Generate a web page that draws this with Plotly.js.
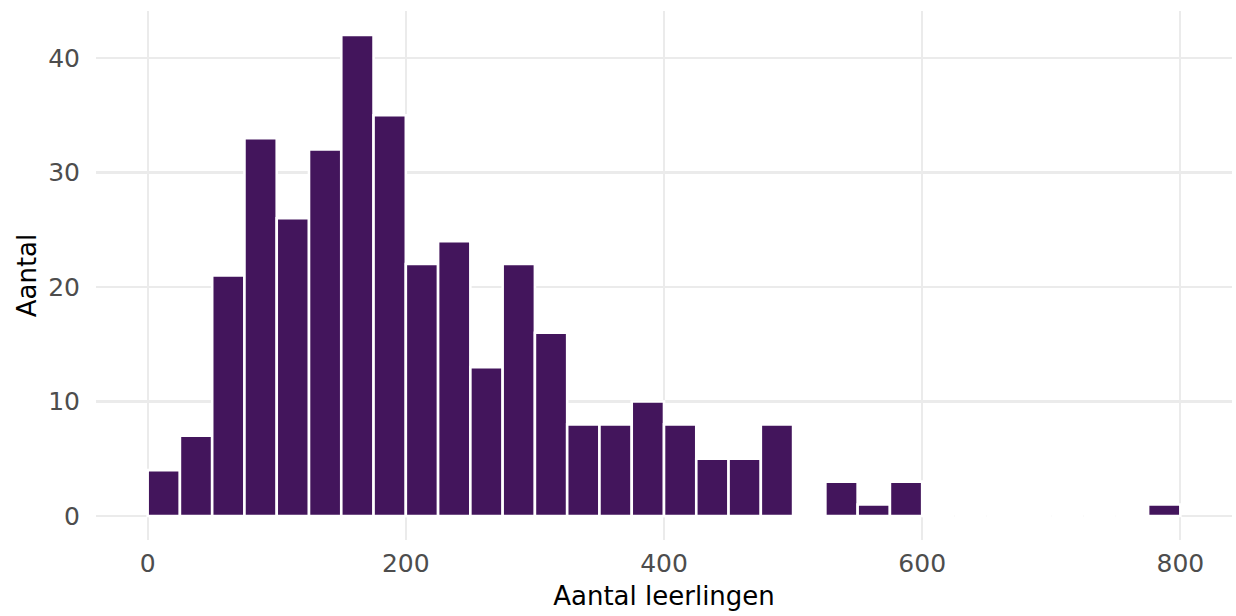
<!DOCTYPE html>
<html>
<head>
<meta charset="utf-8">
<script src="https://cdn.plot.ly/plotly-3.0.1.min.js"></script>
<style>html,body{margin:0;padding:0;background:#fff;}#chart{width:1236px;height:616px;}</style>
</head>
<body>
<div id="chart"></div>
<script>
// Histogram bins (width 25), start of each bin
const binWidth = 25;
const binStart = [0,25,50,75,100,125,150,175,200,225,250,275,300,325,350,375,400,425,450,475,500,525,550,575,600,625,650,675,700,725,750,775];
const counts   = [4,7,21,33,26,32,42,35,22,24,13,22,16,8,8,10,8,5,5,8,0,3,1,3,0,0,0,0,0,0,0,1];
const xTicks = [0,200,400,600,800];
const yTicks = [0,10,20,30,40];
const xTitle = "Aantal leerlingen";
const yTitle = "Aantal";

const trace = {
  type: 'bar',
  x: binStart,
  y: counts,
  width: binWidth,
  offset: 0,
  marker: {color: '#43155c', line: {color: '#ffffff', width: 2.6}},
  hoverinfo: 'x+y'
};

const font = "DejaVu Sans, sans-serif";
const layout = {
  width: 1236, height: 616,
  margin: {l: 96, r: 4, t: 11, b: 76},
  paper_bgcolor: '#fff', plot_bgcolor: '#fff',
  showlegend: false,
  bargap: 0,
  font: {family: font},
  xaxis: {
    range: [-40, 840], tickvals: xTicks, ticktext: xTicks.map(String),
    showgrid: true, gridcolor: '#ebebeb', gridwidth: 2.2, zeroline: false,
    showline: false, ticks: 'outside', ticklen: 1, tickcolor: 'rgba(0,0,0,0)',
    tickfont: {family: font, size: 25, color: '#4d4d4d'},
    title: {text: xTitle, font: {family: font, size: 26, color: '#000'}, standoff: 9}
  },
  yaxis: {
    range: [-2.1, 44.1], tickvals: yTicks, ticktext: yTicks.map(String),
    showgrid: true, gridcolor: '#ebebeb', gridwidth: 2.2, zeroline: false,
    showline: false, ticks: 'outside', ticklen: 10, tickcolor: 'rgba(0,0,0,0)',
    tickfont: {family: font, size: 25, color: '#4d4d4d'},
    title: {text: yTitle, font: {family: font, size: 26, color: '#000'}, standoff: 4}
  }
};

Plotly.newPlot('chart', [trace], layout, {displayModeBar: false, staticPlot: true});
</script>
</body>
</html>
